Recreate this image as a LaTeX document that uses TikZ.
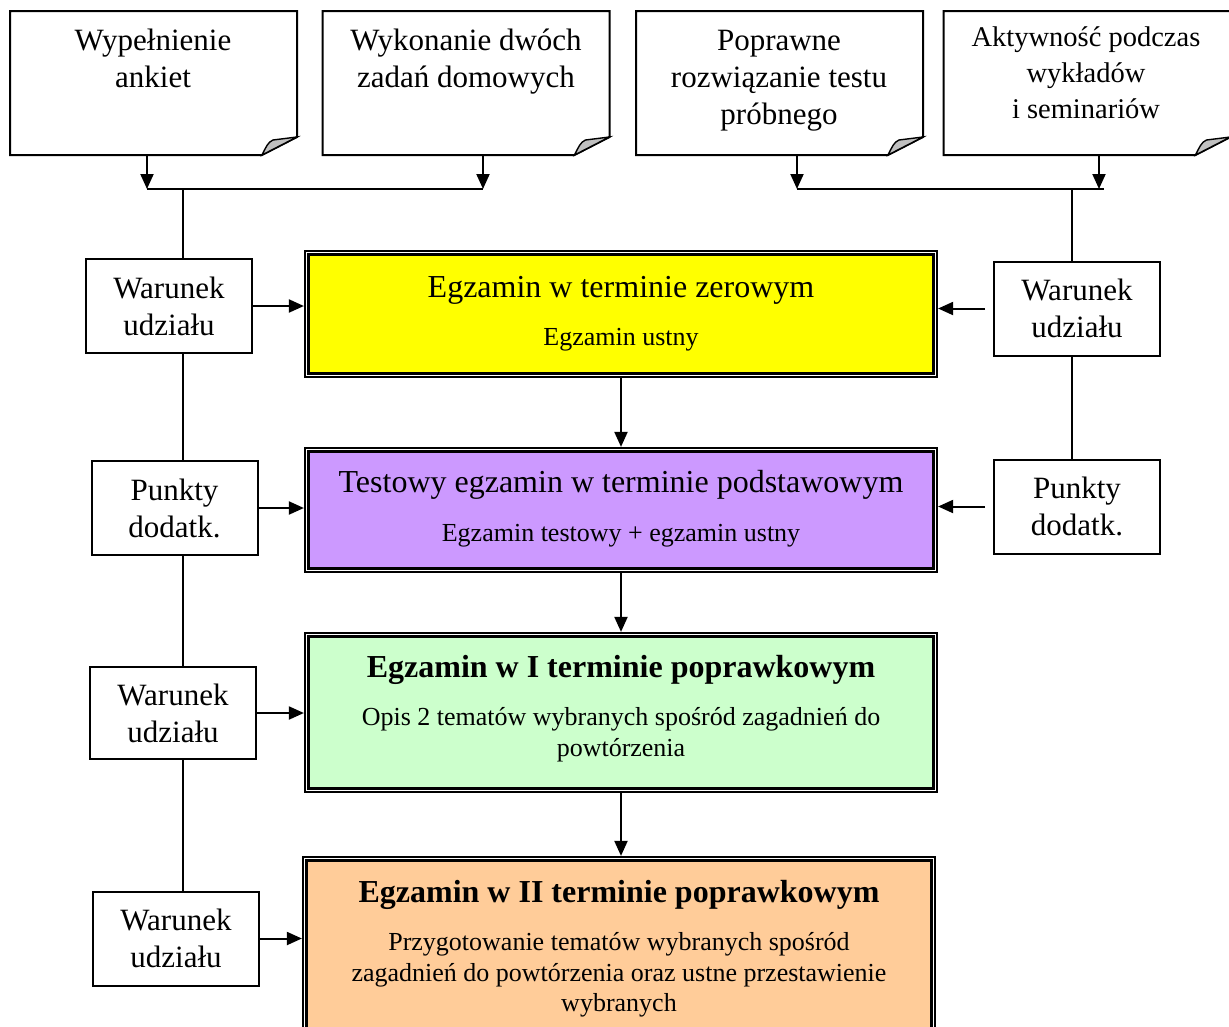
\documentclass[tikz,border=0pt]{standalone}
\usepackage{fontspec}
\setmainfont{Liberation Serif}
\usetikzlibrary{arrows.meta,calc}
\definecolor{cyel}{HTML}{FFFF00}
\definecolor{cpur}{HTML}{CC99FF}
\definecolor{cgrn}{HTML}{CCFFCC}
\definecolor{corg}{HTML}{FFCC99}
\definecolor{cgray}{HTML}{C0C0C0}
\begin{document}
\begin{tikzpicture}[x=1pt,y=-1pt,line width=2pt,
  arr/.style={-{Triangle[length=15pt,width=13pt]}},
  docbox/.style={minimum width=285pt,minimum height=142pt,inner sep=0pt},
  smallbox/.style={draw,fill=white,minimum width=166pt,minimum height=94pt,inner sep=0pt,align=center,font=\fontsize{31}{37}\selectfont},
  mainbox/.style={draw,fill=white,line width=2.2pt,minimum width=632pt,inner sep=0pt},
  txt/.style={inner sep=0pt,align=center},
  ltxt/.style={inner sep=0pt,text height=0.7em,text depth=0.22em},
  doctxt/.style={txt,font=\fontsize{31}{37}\selectfont},
  ttl/.style={ltxt,font=\fontsize{32}{38}\selectfont},
  bttl/.style={ltxt,font=\fontsize{32}{38}\selectfont\bfseries},
  sub/.style={ltxt,font=\fontsize{26}{31}\selectfont},
  msub/.style={txt,font=\fontsize{26}{31}\selectfont}]
\useasboundingbox (0,0) rectangle (1229,1026);
\clip (0,0) rectangle (1229,1026);

% document boxes
\node[docbox] (d1) at (153.5,83) {};
\node[docbox] (d2) at (466,83) {};
\node[docbox] (d3) at (779.5,83) {};
\node[docbox] (d4) at (1087,83) {};
\foreach \n in {d1,d2,d3,d4}{
  \draw[fill=white] (\n.north west) -- (\n.north east) -- ($(\n.south east)+(0,-18)$) -- ($(\n.south east)+(-35,0)$) -- (\n.south west) -- cycle;
  \filldraw[fill=cgray,line width=1.4pt] ($(\n.south east)+(-35,0)$) .. controls ($(\n.south east)+(-31,-8)$) and ($(\n.south east)+(-29,-13)$) .. ($(\n.south east)+(-24,-15)$) -- ($(\n.south east)+(0,-18)$) -- cycle;
}
\node[doctxt] (t1) at (153,58) {Wypełnienie\\ankiet};
\node[doctxt] (t2) at (466,62) {Wykonanie dwóch\\zadań domowych};
\node[doctxt] (t3) at (779,81) {Poprawne\\rozwiązanie testu\\próbnego};
\node[txt,font=\fontsize{28.5}{36}\selectfont] (t4) at (1086,73) {Aktywność podczas\\wykładów\\i seminariów};

% main boxes
\node[mainbox,minimum height=126pt] (yel) at (621,314) {};
\draw[line width=3pt,fill=cyel] ($(yel.north west)+(4.5,4.5)$) rectangle ($(yel.south east)+(-4.5,-4.5)$);
\node[mainbox,minimum height=124pt] (pur) at (621,510) {};
\draw[line width=3pt,fill=cpur] ($(pur.north west)+(4.5,4.5)$) rectangle ($(pur.south east)+(-4.5,-4.5)$);
\node[mainbox,minimum height=159pt] (grn) at (621,712.5) {};
\draw[line width=3pt,fill=cgrn] ($(grn.north west)+(4.5,4.5)$) rectangle ($(grn.south east)+(-4.5,-4.5)$);
\node[mainbox,minimum height=183pt] (org) at (619,948.5) {};
\draw[line width=3pt,fill=corg] ($(org.north west)+(4.5,4.5)$) rectangle ($(org.south east)+(-4.5,-4.5)$);

\node[ttl] (yt) at (621,295) {Egzamin w terminie zerowym};
\node[sub] (ys) at (621,343) {Egzamin ustny};
\node[ttl] (pt) at (621,490) {Testowy egzamin w terminie podstawowym};
\node[sub] (ps) at (621,539) {Egzamin testowy + egzamin ustny};
\node[bttl] (gt) at (621,675) {Egzamin w I terminie poprawkowym};
\node[msub] (gs) at (621,735) {Opis 2 tematów wybranych spośród zagadnień do\\powtórzenia};
\node[bttl] (ot) at (619,900) {Egzamin w II terminie poprawkowym};
\node[msub,font=\fontsize{26}{30.5}\selectfont] (os) at (619,975) {Przygotowanie tematów wybranych spośród\\zagadnień do powtórzenia oraz ustne przestawienie\\wybranych};

% small boxes
\node[smallbox] (w1) at (169,306) {Warunek\\udziału};
\node[smallbox] (p1) at (174.5,508) {Punkty\\dodatk.};
\node[smallbox,minimum height=92pt] (w2) at (173,713) {Warunek\\udziału};
\node[smallbox] (w3) at (176,938.5) {Warunek\\udziału};
\node[smallbox] (rw) at (1077,308.5) {Warunek\\udziału};
\node[smallbox] (rp) at (1077,506.5) {Punkty\\dodatk.};

% junctions
\coordinate (jl1) at (147,189);
\coordinate (jl2) at (483,189);
\coordinate (jlv) at (183,189);
\coordinate (jr1) at (797,189);
\coordinate (jr2) at (1099,189);
\coordinate (jre) at (1104,189);
\coordinate (jrv) at (1072,189);

\draw[arr] (jl1 |- d1.south) -- (jl1);
\draw[arr] (jl2 |- d2.south) -- (jl2);
\draw[arr] (jr1 |- d3.south) -- (jr1);
\draw[arr] (jr2 |- d4.south) -- (jr2);
\draw (jl1) -- (jl2);
\draw (jr1) -- (jre);

\draw (jlv) -- (jlv |- w1.north);
\draw (jlv |- w1.south) -- (jlv |- p1.north);
\draw (jlv |- p1.south) -- (jlv |- w2.north);
\draw (jlv |- w2.south) -- (jlv |- w3.north);
\draw (jrv) -- (jrv |- rw.north);
\draw (jrv |- rw.south) -- (jrv |- rp.north);

% arrows to main boxes
\draw[arr] (w1.east) -- (w1.east -| yel.west);
\draw[arr] (p1.east) -- (p1.east -| pur.west);
\draw[arr] (w2.east) -- (w2.east -| grn.west);
\draw[arr] (w3.east) -- (w3.east -| org.west);
\draw[arr,shorten <=8pt] (rw.west) -- (rw.west -| yel.east);
\draw[arr,shorten <=8pt] (rp.west) -- (rp.west -| pur.east);

\draw[arr] (yel.south) -- (pur.north);
\draw[arr] (pur.south) -- (grn.north);
\draw[arr] (grn.south) -- (grn.south |- org.north);
\end{tikzpicture}
\end{document}
